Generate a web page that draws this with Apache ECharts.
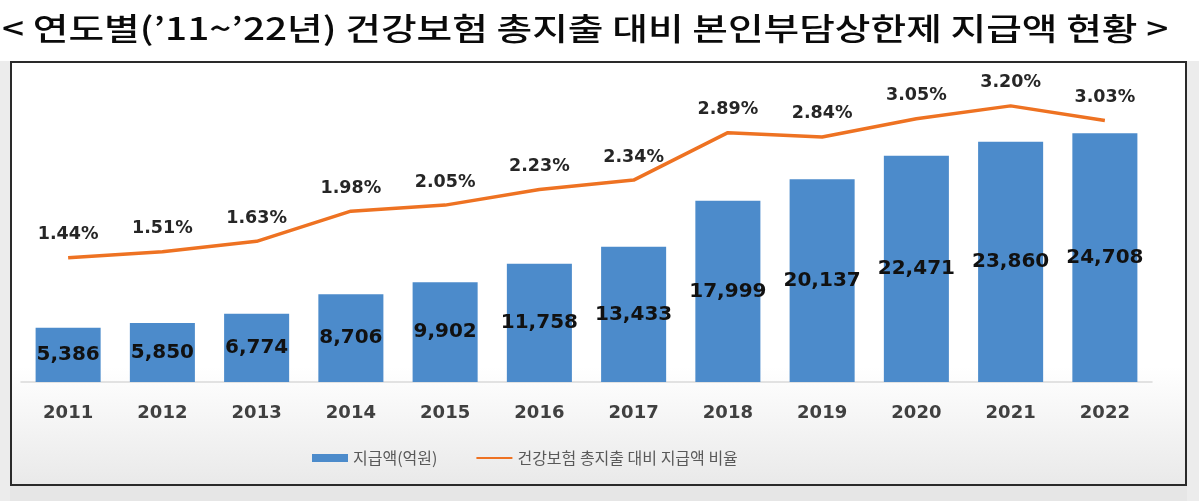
<!DOCTYPE html>
<html>
<head>
<meta charset="utf-8">
<title>본인부담상한제 지급액 현황</title>
<script src="https://cdn.jsdelivr.net/npm/echarts@6/dist/echarts.min.js"></script>
<style>
    html, body { margin: 0; padding: 0; background: #ffffff; }
    #main { width: 1199px; height: 501px; }
</style>
</head>
<body>
<div id="main"></div>
<script>
// 차트 데이터
var years = ['2011', '2012', '2013', '2014', '2015', '2016', '2017', '2018', '2019', '2020', '2021', '2022'];
var payAmount = [5386, 5850, 6774, 8706, 9902, 11758, 13433, 17999, 20137, 22471, 23860, 24708];
var payRatio = [1.44, 1.51, 1.63, 1.98, 2.05, 2.23, 2.34, 2.89, 2.84, 3.05, 3.20, 3.03];
var seriesNames = ['지급액(억원)', '건강보험 총지출 대비 지급액 비율'];
var titleText = '< 연도별(\u201911~\u201922년) 건강보험 총지출 대비 본인부담상한제 지급액 현황 >';

var chart = echarts.init(document.getElementById('main'));

var option = {
    backgroundColor: '#ffffff',
    animation: false,
    graphic: [
        // 바깥 배경과 테두리 상자
        {
            type: 'rect',
            z: -10,
            shape: { x: 0, y: 485, width: 1199, height: 16 },
            style: { fill: '#e6e6e6' }
        },
        {
            type: 'rect',
            z: -9,
            shape: { x: 0, y: 61, width: 10, height: 440 },
            style: { fill: '#ececec' }
        },
        {
            type: 'rect',
            z: -9,
            shape: { x: 1187, y: 61, width: 12, height: 440 },
            style: { fill: '#ececec' }
        },
        {
            type: 'rect',
            z: -8,
            shape: { x: 11, y: 62, width: 1175, height: 423 },
            style: {
                fill: new echarts.graphic.LinearGradient(0, 0, 0, 1, [
                    { offset: 0, color: '#ffffff' },
                    { offset: 0.72, color: '#ffffff' },
                    { offset: 1, color: '#e9e9e9' }
                ]),
                stroke: '#2a2a2a',
                lineWidth: 2
            }
        },
        // 제목 (가로로 조금 늘림)
        {
            type: 'text',
            x: 2,
            y: 28,
            scaleX: 1.25,
            style: {
                text: titleText,
                fontFamily: 'Noto Sans CJK KR',
                fontSize: 31,
                fontWeight: 500,
                fill: '#0a0a0a',
                textVerticalAlign: 'middle'
            }
        }
    ],
    legend: {
        left: 307,
        top: 445,
        itemWidth: 36,
        itemHeight: 8,
        itemGap: 38,
        textStyle: {
            fontFamily: 'Noto Sans CJK KR',
            fontSize: 16,
            color: '#595959'
        },
        data: [
            { name: seriesNames[0], icon: 'rect' },
            { name: seriesNames[1], itemStyle: { opacity: 0 } }
        ]
    },
    grid: {
        left: 21,
        right: 47,
        top: 80,
        bottom: 119
    },
    xAxis: {
        type: 'category',
        data: years,
        axisLine: { lineStyle: { color: '#d9d9d9', width: 1.5 } },
        axisTick: { show: false },
        axisLabel: {
            margin: 22,
            fontFamily: 'DejaVu Sans',
            fontSize: 18,
            fontWeight: 'bold',
            color: '#404040'
        }
    },
    yAxis: [
        { type: 'value', min: 0, max: 30000, show: false },
        { type: 'value', min: 0, max: 3.5, show: false }
    ],
    series: [
        {
            name: seriesNames[0],
            type: 'bar',
            barWidth: '69%',
            data: payAmount,
            itemStyle: { color: '#4C8BCB' },
            label: {
                show: true,
                position: 'inside',
                fontFamily: 'DejaVu Sans',
                fontSize: 20,
                fontWeight: 'bold',
                color: '#111111',
                formatter: function (p) {
                    return p.value.toLocaleString('en-US');
                }
            }
        },
        {
            name: seriesNames[1],
            type: 'line',
            yAxisIndex: 1,
            symbol: 'circle',
            symbolSize: 0.1,
            data: payRatio,
            lineStyle: { color: '#EE7222', width: 3.5 },
            itemStyle: { color: '#EE7222' },
            label: {
                show: true,
                position: 'top',
                distance: 14,
                fontFamily: 'DejaVu Sans',
                fontSize: 17.5,
                fontWeight: 'bold',
                color: '#262626',
                formatter: function (p) {
                    return p.value.toFixed(2) + '%';
                }
            }
        }
    ]
};

chart.setOption(option);
</script>
</body>
</html>
